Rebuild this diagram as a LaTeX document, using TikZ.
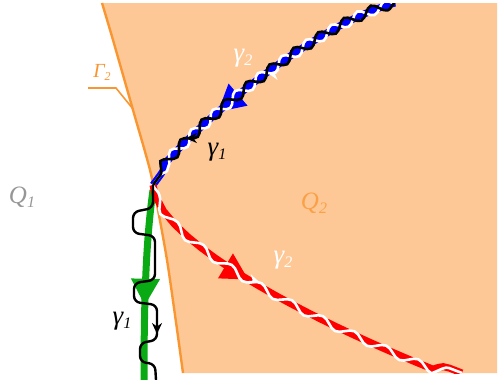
\documentclass[tikz,border=0pt]{standalone}
\usepackage{fontspec}
\setmainfont{Liberation Serif}
\usetikzlibrary{decorations.pathmorphing,decorations.markings,arrows.meta}
\definecolor{peach}{RGB}{253,200,150}
\definecolor{gorange}{RGB}{250,150,50}
\definecolor{qorange}{RGB}{250,160,70}
\definecolor{qgray}{RGB}{150,150,150}
\definecolor{pgreen}{RGB}{10,170,20}
\newcommand\lsub[1]{\raisebox{-4pt}{\fontsize{16}{16}\selectfont #1}}
\newcommand\gsub[1]{\raisebox{-3pt}{\fontsize{12}{12}\selectfont #1}}
\tikzset{
  bigtri/.tip={Triangle[length=27pt,width=27pt]},
  smalltip/.tip={Stealth[length=11pt,width=10pt]},
}
\begin{document}
\begin{tikzpicture}[x=1pt,y=-1pt,
  lab/.style={font=\fontsize{25}{25}\selectfont\itshape, inner sep=0pt},
  glab/.style={font=\fontsize{27}{27}\selectfont\itshape, inner sep=0pt},
  wave/.style 2 args={line width=2.6pt, decorate, decoration={snake, amplitude=#2, segment length=#1}},
  wavem/.style 2 args={line width=2.6pt, decorate, decoration={snake, amplitude=#2, segment length=#1, mirror}},
  flat/.style={decorate, decoration={snake, amplitude=0pt, segment length=#1}},
]
\useasboundingbox (0,0) rectangle (498,380);
% region Q2
\fill[peach] plot[smooth] coordinates {(102,3) (113,40) (133,110) (150,170) (158,210) (167,260) (175,315) (183,373)} -- (497,373) -- (497,3) -- cycle;
\draw[gorange, line width=2.4pt] plot[smooth] coordinates {(102,3) (113,40) (133,110) (150,170) (158,210) (167,260) (175,315) (183,373)};
% leader of Gamma_2
\coordinate (lead0) at (88,88);
\coordinate (lead1) at (116,88);
\coordinate (lead2) at (133,109);
\draw[gorange, line width=1.6pt] (lead0) -- (lead1) -- (lead2);
\coordinate (C) at (153,185);
\coordinate (Btop) at (395,3);
\coordinate (Rend) at (462,373);
\coordinate (Gend) at (144,380);
% green
\draw[pgreen, line width=7pt, postaction={decorate,decoration={markings,mark=at position 0.61 with {\arrow{bigtri}}}}]
  (153,190) .. controls (146,240) and (144,300) .. (Gend);
\begin{scope}
\clip (0,3) rectangle (497,373);
% blue
\draw[blue, line width=7pt, flat=29pt, postaction={decorate,decoration={markings,mark=at position 0.68 with {\arrow{bigtri}}}}]
  (Btop) .. controls (320,25) and (195,125) .. (C);
% red
\draw[red, line width=7pt, flat=35pt, postaction={decorate,decoration={markings,mark=at position 0.37 with {\arrow{bigtri}}}}]
  (C) .. controls (163,230) and (285,305) .. (Rend);
% white wave on blue
\draw[white, wavem={29pt}{5pt}, postaction={decorate,decoration={markings,mark=at position 0.48 with {\arrow{smalltip}}}}]
  (Btop) .. controls (320,25) and (195,125) .. (C);
% white wave on red
\draw[white, wave={35pt}{4pt}, postaction={decorate,decoration={markings,mark=at position 0.40 with {\arrow{smalltip}}}}]
  (C) .. controls (163,230) and (285,305) .. (Rend);
% black wave on blue
\draw[black, wave={29pt}{5pt}, postaction={decorate,decoration={markings,mark=at position 0.82 with {\arrow{smalltip}}}}]
  (Btop) .. controls (320,25) and (195,125) .. (C);
\end{scope}
% black wiggle along green
\draw[black, line width=2.4pt, rounded corners=6pt] (C) -- (153,208) -- (133,212) -- (133,233) -- (155,236) -- (155,280) -- (134,283) -- (134,302) -- (157,305) -- (157,340) -- (140,343) -- (140,362) -- (155,364) -- (156,380);
\draw[black, line width=2.4pt, -{Stealth[length=11pt,width=10pt]}] (157,312) -- (157,334);
% labels
\node[glab, white] (g2a) at (243,58) {γ\lsub{2}};
\node[glab] (g1a) at (217,152) {γ\lsub{1}};
\node[lab, qorange] (q2) at (314,203) {Q\lsub{2}};
\node[glab, white] (g2b) at (283,260) {γ\lsub{2}};
\node[glab] (g1b) at (122,321) {γ\lsub{1}};
\node[lab, qgray] (q1) at (22,197) {Q\lsub{1}};
\node[lab, gorange, font=\fontsize{20}{20}\selectfont\itshape] (G2) at (102,72) {Γ\gsub{2}};
\end{tikzpicture}
\end{document}
